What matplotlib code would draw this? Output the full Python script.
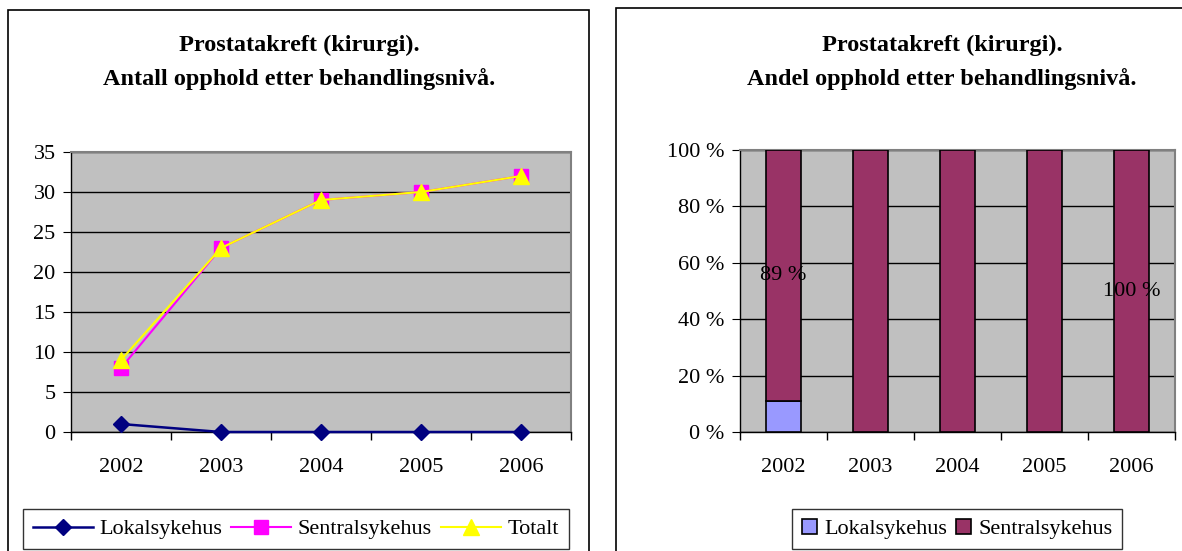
import matplotlib.pyplot as plt
import numpy as np
from matplotlib.patches import Rectangle
from matplotlib.ticker import FixedLocator, FuncFormatter

plt.rcParams["font.family"] = ["Liberation Serif", "DejaVu Serif"]

years = ["2002", "2003", "2004", "2005", "2006"]
lokal = [1, 0, 0, 0, 0]
sentral = [8, 23, 29, 30, 32]
totalt = [9, 23, 29, 30, 32]

# shares per year (percent)
lokal_pct = [100 * l / t for l, t in zip(lokal, totalt)]
sentral_pct = [100 * s / t for s, t in zip(sentral, totalt)]
pct_labels = {0: "89 %", 4: "100 %"}

W, H = 1182, 551
fig = plt.figure(figsize=(W / 100, H / 100), dpi=100)


def fx(px):
    return px / W


def fy(py):
    return 1 - py / H


# chart frames
fig.patches.append(Rectangle((fx(8), fy(560)), fx(581), fy(10) - fy(560),
                             transform=fig.transFigure, fill=False, ec="black", lw=1.2))
fig.patches.append(Rectangle((fx(616), fy(560)), fx(600), fy(8) - fy(560),
                             transform=fig.transFigure, fill=False, ec="black", lw=1.2))

gray = "#C0C0C0"
TICK_FS = 16


def style_axes(ax):
    ax.set_facecolor(gray)
    ax.set_xlim(-0.5, 4.5)
    ax.set_xticks(range(5))
    ax.set_xticklabels(years, fontsize=TICK_FS)
    ax.xaxis.set_minor_locator(FixedLocator(np.arange(-0.5, 5, 1)))
    ax.tick_params(axis="x", which="major", length=0, pad=19)
    ax.tick_params(axis="x", which="minor", length=6, direction="out", width=1)
    ax.tick_params(axis="y", length=6, direction="out", labelsize=TICK_FS, pad=5)
    ax.yaxis.grid(True, color="black", lw=1)
    ax.set_axisbelow(True)
    for s in ["top", "right"]:
        ax.spines[s].set_color("#808080")
        ax.spines[s].set_linewidth(1.5)
    for s in ["left", "bottom"]:
        ax.spines[s].set_color("black")
        ax.spines[s].set_linewidth(1)


# line chart
ax1 = fig.add_axes([fx(71), fy(432), fx(500), fy(152) - fy(432)])
style_axes(ax1)
x = np.arange(len(years))
l1, = ax1.plot(x, lokal, color="#000080", marker="D", ms=8.5, lw=1.8, label="Lokalsykehus",
               zorder=5, clip_on=False)
l2, = ax1.plot(x, sentral, color="#FF00FF", marker="s", ms=9.5, lw=1.5, label="Sentralsykehus", zorder=3)
l3, = ax1.plot(x, totalt, color="#FFFF00", marker="^", ms=12, lw=1.5, label="Totalt", zorder=4)
ax1.set_ylim(0, 35)
ax1.set_yticks(range(0, 36, 5))
fig.text(fx(299), fy(45), "Prostatakreft (kirurgi).", ha="center", va="center",
         fontsize=17.5, fontweight="bold")
fig.text(fx(299), fy(79), "Antall opphold etter behandlingsnivå.", ha="center", va="center",
         fontsize=17.5, fontweight="bold")
leg1 = fig.legend(handles=[l1, l2, l3], loc="center", bbox_to_anchor=(fx(296), fy(529)),
                  ncol=3, fontsize=16, frameon=True, fancybox=False, edgecolor="black",
                  handlelength=2.7, columnspacing=0.4, handletextpad=0.3, borderpad=0.45)
leg1.get_frame().set_linewidth(1)

# stacked share chart
ax2 = fig.add_axes([fx(740), fy(432), fx(435), fy(150) - fy(432)])
style_axes(ax2)
b1 = ax2.bar(x, lokal_pct, width=0.41, color="#9999FF", ec="black", lw=1.2,
             label="Lokalsykehus", zorder=3)
b2 = ax2.bar(x, sentral_pct, width=0.41, bottom=lokal_pct, color="#993366", ec="black",
             lw=1.2, label="Sentralsykehus", zorder=3)
for i, txt in pct_labels.items():
    ax2.text(i, lokal_pct[i] + sentral_pct[i] / 2, txt, ha="center", va="center",
             fontsize=16, zorder=5)
ax2.set_ylim(0, 100)
ax2.set_yticks(range(0, 101, 20))
ax2.yaxis.set_major_formatter(FuncFormatter(lambda v, p: f"{int(v)} %"))
fig.text(fx(942), fy(45), "Prostatakreft (kirurgi).", ha="center", va="center",
         fontsize=17.5, fontweight="bold")
fig.text(fx(942), fy(79), "Andel opphold etter behandlingsnivå.", ha="center", va="center",
         fontsize=17.5, fontweight="bold")
leg2 = fig.legend(handles=[b1, b2], loc="center", bbox_to_anchor=(fx(957), fy(529)),
                  ncol=2, fontsize=16, frameon=True, fancybox=False, edgecolor="black",
                  handlelength=0.7, handleheight=0.7, columnspacing=0.4, handletextpad=0.3,
                  borderpad=0.45)
leg2.get_frame().set_linewidth(1)

fig.savefig("out.png", dpi=100)
